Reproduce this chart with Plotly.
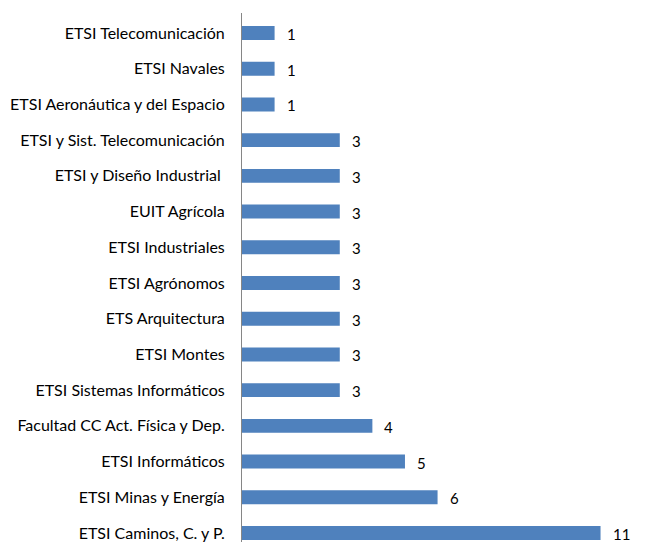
import plotly.graph_objects as go

categories = [
    "ETSI Caminos, C. y P.",
    "ETSI Minas y Energía",
    "ETSI Informáticos",
    "Facultad CC Act. Física y Dep.",
    "ETSI Sistemas Informáticos",
    "ETSI Montes",
    "ETS Arquitectura",
    "ETSI Agrónomos",
    "ETSI Industriales",
    "EUIT Agrícola",
    "ETSI y Diseño Industrial ",
    "ETSI y Sist. Telecomunicación",
    "ETSI Aeronáutica y del Espacio",
    "ETSI Navales",
    "ETSI Telecomunicación",
]
values = [11, 6, 5, 4, 3, 3, 3, 3, 3, 3, 3, 3, 1, 1, 1]

FONT = "Lato"

fig = go.Figure(go.Bar(
    x=values, y=categories, orientation="h",
    marker=dict(color="#4F81BD", line=dict(color="#4F81BD", width=0)),
    hoverinfo="skip",
))

for c, v in zip(categories, values):
    fig.add_annotation(x=v, y=c, text=str(v), showarrow=False,
                       xanchor="left", xshift=10, yshift=-1,
                       font=dict(family=FONT, size=15, color="#000000"))

fig.update_layout(
    width=646, height=542,
    margin=dict(l=234, r=0, t=5, b=8),
    paper_bgcolor="white", plot_bgcolor="white",
    bargap=0.61, showlegend=False,
    font=dict(family=FONT, size=16, color="#000000"),
)
fig.update_xaxes(range=[0, 12.64], visible=False, showgrid=False, zeroline=False)
fig.update_yaxes(range=[-0.252, 14.56], showgrid=False, zeroline=False,
                 showline=True, linecolor="#868686", linewidth=1,
                 ticks="", ticklabelstandoff=13, automargin=False,
                 tickfont=dict(family=FONT, size=16, color="#000000"))

fig.write_html("out.html")
